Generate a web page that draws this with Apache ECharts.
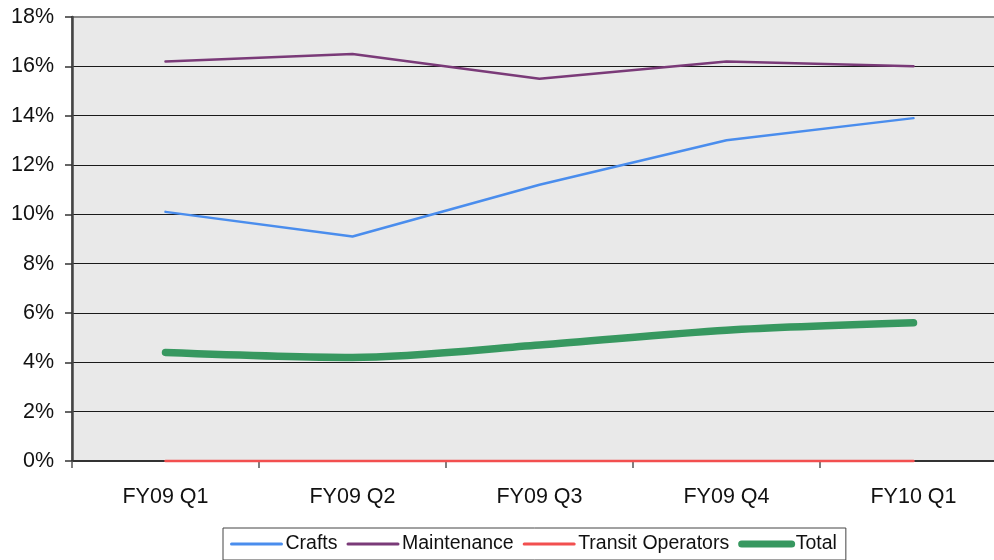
<!DOCTYPE html>
<html>
<head>
<meta charset="utf-8">
<title>Turnover by group</title>
<script src="https://cdn.jsdelivr.net/npm/echarts@6/dist/echarts.min.js"></script>
<style>
  html, body { margin: 0; padding: 0; background: #fff; overflow: hidden; }
  /* the plot runs past the right edge of the window, as in the original */
  #chart { width: 1007px; height: 560px; }
</style>
</head>
<body>
<div id="chart"></div>
<script>
// data (percent)
const quarters = ['FY09 Q1', 'FY09 Q2', 'FY09 Q3', 'FY09 Q4', 'FY10 Q1'];
const crafts = [10.1, 9.1, 11.2, 13.0, 13.9];
const maintenance = [16.2, 16.5, 15.5, 16.2, 16.0];
const transitOperators = [0, 0, 0, 0, 0];
const total = [4.4, 4.2, 4.7, 5.3, 5.6];

const FONT = '"Liberation Sans", Arial, sans-serif';

const myChart = echarts.init(document.getElementById('chart'));

const lineSeries = (name, data, color, width, smooth) => ({
  name: name,
  type: 'line',
  data: data,
  symbol: 'none',
  smooth: smooth ? 0.3 : false,
  clip: false,
  lineStyle: { color: color, width: width, cap: 'round' },
  itemStyle: { color: color },
});

const option = {
  animation: false,
  backgroundColor: '#ffffff',
  textStyle: { fontFamily: FONT },
  grid: {
    left: 72,
    top: 17,
    right: 0,
    bottom: 99,
    show: true,
    backgroundColor: '#e9e9e9',
    borderColor: '#8a8a8a',
    borderWidth: 2,
  },
  legend: {
    left: 223,
    top: 528,
    orient: 'horizontal',
    itemWidth: 50,
    itemHeight: 14,
    itemGap: 9,
    padding: [6, 9, 6, 7],
    borderColor: '#444',
    borderWidth: 1,
    itemStyle: { opacity: 0 },
    lineStyle: { width: 3 },
    textStyle: { fontFamily: FONT, fontSize: 19.5, color: '#111', padding: [0, 0, 0, -1] },
    data: [
      'Crafts',
      'Maintenance',
      'Transit Operators',
      { name: 'Total', lineStyle: { width: 7, cap: 'round' } },
    ],
  },
  xAxis: {
    type: 'category',
    data: quarters,
    boundaryGap: true,
    axisLine: { lineStyle: { color: '#333', width: 2 } },
    axisTick: { show: true, length: 7, lineStyle: { color: '#555', width: 1.5 } },
    axisLabel: { color: '#111', fontSize: 21.5, margin: 25, fontFamily: FONT },
    splitLine: { show: false },
  },
  yAxis: {
    type: 'value',
    min: 0,
    max: 18,
    interval: 2,
    axisLine: { show: true, lineStyle: { color: '#444', width: 2.5 } },
    axisTick: { show: true, length: 7, lineStyle: { color: '#333', width: 1.5 } },
    axisLabel: { color: '#111', fontSize: 21.5, margin: 18, formatter: '{value}%', fontFamily: FONT },
    splitLine: { show: true, showMaxLine: false, showMinLine: false, lineStyle: { color: '#1a1a1a', width: 1.2 } },
  },
  series: [
    lineSeries('Crafts', crafts, '#4a8ded', 2.5, false),
    lineSeries('Maintenance', maintenance, '#7a3a78', 2.5, false),
    lineSeries('Transit Operators', transitOperators, '#f24f4f', 2.5, false),
    lineSeries('Total', total, '#379860', 7.5, true),
  ],
};

myChart.setOption(option);
</script>
</body>
</html>
